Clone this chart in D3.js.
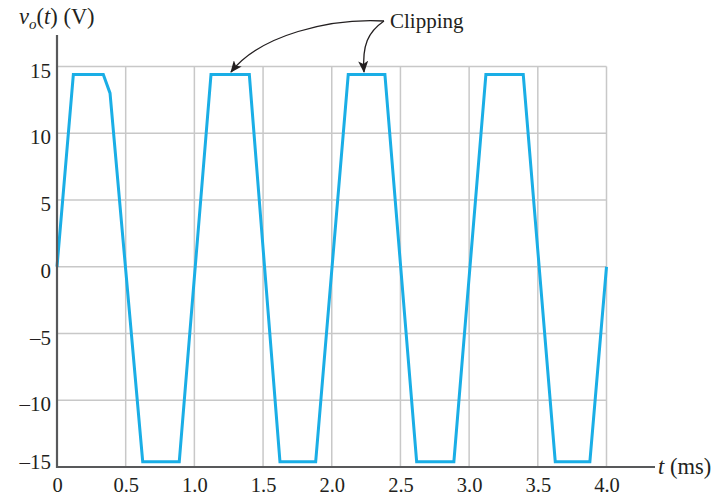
<!DOCTYPE html>
<html>
<head>
<meta charset="utf-8">
<script src="https://cdn.jsdelivr.net/npm/d3@7"></script>
<style>
  html, body { margin: 0; padding: 0; background: #fff; }
  svg { display: block; }
  text { font-family: "Liberation Serif", "DejaVu Serif", serif; fill: #231f20; }
</style>
</head>
<body>
<svg id="chart" width="720" height="499"></svg>
<script>
// ---- data ----
const timeMs  = [0, 0.119, 0.337, 0.386, 0.624, 0.890, 1.121, 1.400, 1.623, 1.883, 2.120, 2.387, 2.618, 2.889, 3.122, 3.394, 3.627, 3.879, 4.0];
const voltage = [0, 14.4, 14.4, 13.0, -14.6, -14.6, 14.4, 14.4, -14.6, -14.6, 14.4, 14.4, -14.6, -14.6, 14.4, 14.4, -14.6, -14.6, 0];
const xTicks = [0, 0.5, 1.0, 1.5, 2.0, 2.5, 3.0, 3.5, 4.0];
const yTicks = [-15, -10, -5, 0, 5, 10, 15];
const annotationText = "Clipping";

const svg = d3.select("#chart");
const x = d3.scaleLinear().domain([0, 4]).range([57, 606.5]);
const y = d3.scaleLinear().domain([-15, 15]).range([467, 66.5]);

// grid
const grid = svg.append("g").attr("stroke", "#c8c8c8").attr("stroke-width", 1.5);
grid.selectAll("line.v").data(xTicks.filter(d => d > 0)).join("line")
  .attr("x1", d => x(d)).attr("x2", d => x(d))
  .attr("y1", y(-15)).attr("y2", y(15));
grid.selectAll("line.h").data(yTicks.filter(d => d > -15)).join("line")
  .attr("x1", x(0)).attr("x2", x(4))
  .attr("y1", d => y(d)).attr("y2", d => y(d));

// waveform
const pts = timeMs.map((t, i) => [t, voltage[i]]);
svg.append("path")
  .datum(pts)
  .attr("fill", "none")
  .attr("stroke", "#1aaee6")
  .attr("stroke-width", 3)
  .attr("stroke-linejoin", "miter")
  .attr("d", d3.line().x(d => x(d[0])).y(d => y(d[1])));

// axes lines
svg.append("line").attr("x1", x(0)).attr("x2", 655).attr("y1", y(-15)).attr("y2", y(-15))
  .attr("stroke", "#58595b").attr("stroke-width", 2.2);
svg.append("line").attr("x1", x(0)).attr("x2", x(0)).attr("y1", y(-15) + 1).attr("y2", 35)
  .attr("stroke", "#58595b").attr("stroke-width", 2.2);

const fmtY = d => d < 0 ? "\u2013" + Math.abs(d) : String(d);
const fmtX = d => d === 0 ? "0" : d.toFixed(1);

const gx = svg.append("g").attr("transform", `translate(0,${y(-15)})`)
  .call(d3.axisBottom(x).tickValues(xTicks).tickFormat(fmtX).tickSize(0).tickPadding(10.5));
gx.select(".domain").remove();
gx.selectAll("text").style("font-size", "20.5px").style("font-family", "Liberation Serif, serif").attr("fill", "#231f20");

const gy = svg.append("g").attr("transform", `translate(${x(0)},0)`)
  .call(d3.axisLeft(y).tickValues(yTicks).tickFormat(fmtY).tickSize(0).tickPadding(6));
gy.select(".domain").remove();
gy.selectAll("text").style("font-size", "21px").style("font-family", "Liberation Serif, serif").attr("fill", "#231f20")
  .attr("dy", d => d === -15 ? "0.07em" : "0.5em");

// y title
const yt = svg.append("text").attr("x", 19).attr("y", 24).style("font-size", "22.5px");
yt.append("tspan").style("font-style", "italic").text("v");
yt.append("tspan").style("font-style", "italic").style("font-size", "15px").attr("dy", 5).text("o");
yt.append("tspan").attr("dy", -5).text("(");
yt.append("tspan").style("font-style", "italic").text("t");
yt.append("tspan").text(") (V)");

// x title
const xt = svg.append("text").attr("x", 658).attr("y", 474).style("font-size", "22.5px");
xt.append("tspan").style("font-style", "italic").text("t");
xt.append("tspan").text(" (ms)");

// annotation
svg.append("defs").append("marker")
  .attr("id", "arrow").attr("viewBox", "0 0 12 10").attr("refX", 11).attr("refY", 5)
  .attr("markerWidth", 12).attr("markerHeight", 10).attr("markerUnits", "userSpaceOnUse")
  .attr("orient", "auto")
  .append("path").attr("d", "M0,0 L12,5 L0,10 L3,5 Z").attr("fill", "#231f20");

svg.append("text").attr("x", 390).attr("y", 28).style("font-size", "21px").text(annotationText);

svg.append("path").attr("d", "M384,21 C330,18 260,35 231,72")
  .attr("fill", "none").attr("stroke", "#231f20").attr("stroke-width", 1.3).attr("marker-end", "url(#arrow)");
svg.append("path").attr("d", "M384,21 C368,32 362,45 364,72")
  .attr("fill", "none").attr("stroke", "#231f20").attr("stroke-width", 1.3).attr("marker-end", "url(#arrow)");
</script>
</body>
</html>
